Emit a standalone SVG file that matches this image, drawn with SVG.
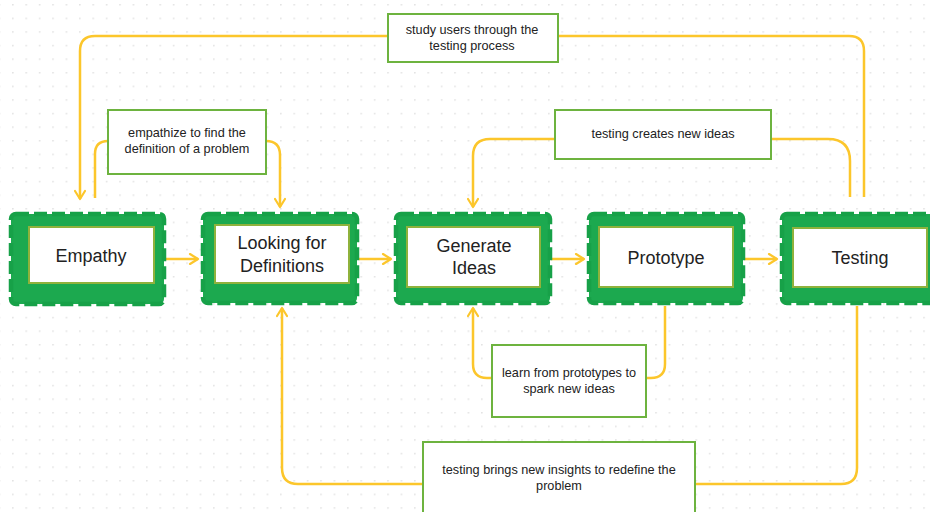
<svg xmlns="http://www.w3.org/2000/svg" width="930" height="512" viewBox="0 0 930 512">
<defs>
<pattern id="dots" x="12" y="4" width="13.4" height="13.6" patternUnits="userSpaceOnUse">
<circle cx="0.8" cy="0.8" r="0.9" fill="#e2e2e2"/>
</pattern>
<marker id="arr" viewBox="0 0 12 12" refX="10" refY="6" markerWidth="12" markerHeight="12" markerUnits="userSpaceOnUse" orient="auto">
<path d="M2,1 L10,6 L2,11" fill="none" stroke="#fcc62b" stroke-width="2.2" stroke-linecap="round" stroke-linejoin="round"/>
</marker>
<style>
.outer{fill:#1ca94f;stroke:#17a148;stroke-width:4.5;stroke-dasharray:13 5;stroke-linejoin:round}
.inner{fill:#fff;stroke:#8fb23c;stroke-width:2}
.nt{font-family:"Liberation Sans",Arial,sans-serif;font-size:18px;fill:#222;text-anchor:middle}
.lb{fill:#fff;stroke:#6db33f;stroke-width:2}
.lt{font-family:"Liberation Sans",Arial,sans-serif;font-size:12.7px;fill:#222;text-anchor:middle}
.e{fill:none;stroke:#fcc62b;stroke-width:2.5}
</style>
</defs>
<rect width="930" height="512" fill="#fff"/>
<rect width="930" height="512" fill="url(#dots)"/>

<g id="connectors">
<path class="e" d="M166,259 H198" marker-end="url(#arr)"/>
<path class="e" d="M359,259 H391" marker-end="url(#arr)"/>
<path class="e" d="M551,259 H584" marker-end="url(#arr)"/>
<path class="e" d="M744,259 H777" marker-end="url(#arr)"/>
<path class="e" d="M864,197 V51 Q864,36 849,36 H95 Q80,36 80,51 V199" marker-end="url(#arr)"/>
<path class="e" d="M95,198 V154 Q95,141 108,141"/>
<path class="e" d="M266,141 Q280,141 280,155 V207" marker-end="url(#arr)"/>
<path class="e" d="M850,197 V161 Q850,139 828,139 H554"/>
<path class="e" d="M554,139 H490 Q473,139 473,156 V207" marker-end="url(#arr)"/>
<path class="e" d="M665,306 V364 Q665,378 651,378 H646"/>
<path class="e" d="M492,378 H487 Q473,378 473,364 V308" marker-end="url(#arr)"/>
<path class="e" d="M857,306 V468 Q857,484 841,484 H696"/>
<path class="e" d="M423,484 H298 Q282,484 282,468 V308" marker-end="url(#arr)"/>
</g>

<g id="empathy">
<rect class="outer" x="11" y="214" width="153" height="90" rx="5"/>
<rect class="inner" x="29" y="227" width="125" height="56"/>
<text class="nt" x="91" y="262">Empathy</text>
</g>
<g id="looking">
<rect class="outer" x="203" y="214" width="154" height="89" rx="5"/>
<rect class="inner" x="215" y="225" width="134" height="58"/>
<text class="nt" x="282" y="249">Looking for</text>
<text class="nt" x="282" y="272">Definitions</text>
</g>
<g id="generate">
<rect class="outer" x="396" y="214" width="154" height="89" rx="5"/>
<rect class="inner" x="407" y="227" width="133" height="60"/>
<text class="nt" x="474" y="252">Generate</text>
<text class="nt" x="474" y="274">Ideas</text>
</g>
<g id="prototype">
<rect class="outer" x="589" y="214" width="154" height="89" rx="5"/>
<rect class="inner" x="599" y="227" width="134" height="60"/>
<text class="nt" x="666" y="264">Prototype</text>
</g>
<g id="testing">
<rect class="outer" x="782" y="214" width="154" height="89" rx="5"/>
<rect class="inner" x="793" y="228" width="134" height="59"/>
<text class="nt" x="860" y="264">Testing</text>
</g>

<g id="label-study">
<rect class="lb" x="388" y="14" width="170" height="48"/>
<text class="lt" x="472" y="34">study users through the</text>
<text class="lt" x="472" y="50">testing process</text>
</g>
<g id="label-empathize">
<rect class="lb" x="108" y="110" width="158" height="64"/>
<text class="lt" x="187" y="137">empathize to find the</text>
<text class="lt" x="187" y="153">definition of a problem</text>
</g>
<g id="label-creates">
<rect class="lb" x="555" y="110" width="216" height="49"/>
<text class="lt" x="663" y="138">testing creates new ideas</text>
</g>
<g id="label-learn">
<rect class="lb" x="492" y="345" width="154" height="72"/>
<text class="lt" x="569" y="377">learn from prototypes to</text>
<text class="lt" x="569" y="393">spark new ideas</text>
</g>
<g id="label-brings">
<rect class="lb" x="423" y="442" width="272" height="80"/>
<text class="lt" x="559" y="474">testing brings new insights to redefine the</text>
<text class="lt" x="559" y="490">problem</text>
</g>
</svg>
